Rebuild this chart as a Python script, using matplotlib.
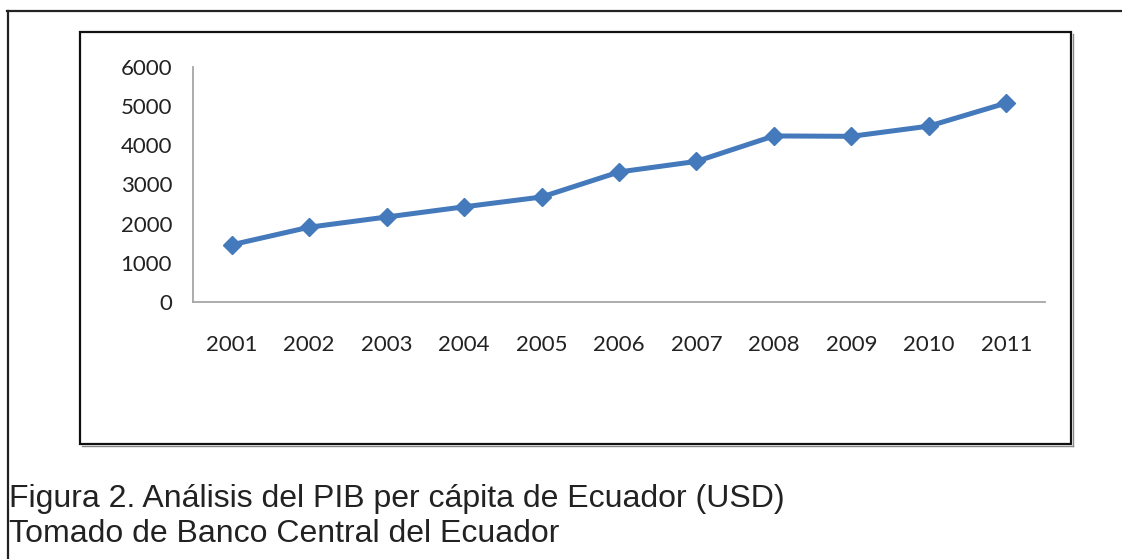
import matplotlib
matplotlib.use("Agg")
import matplotlib.pyplot as plt
from matplotlib.patches import Rectangle
from matplotlib.lines import Line2D

# PIB per capita de Ecuador (USD)
years = ["2001", "2002", "2003", "2004", "2005", "2006",
         "2007", "2008", "2009", "2010", "2011"]
pib = [1460, 1910, 2170, 2430, 2680, 3320, 3590, 4240, 4230, 4490, 5080]
yticks = [0, 1000, 2000, 3000, 4000, 5000, 6000]

caption1 = "Figura 2. Análisis del PIB per cápita de Ecuador (USD)"
caption2 = "Tomado de Banco Central del Ecuador"

W, H = 1122, 559
fig = plt.figure(figsize=(W / 100, H / 100), dpi=100)

def fx(px):
    return px / W

def fy(py):
    return 1 - py / H

# outer frame (top and left only)
fig.add_artist(Line2D([fx(7), 1], [fy(11), fy(11)], color="#222222", lw=1.6))
fig.add_artist(Line2D([fx(8), fx(8)], [fy(11), 0], color="#222222", lw=1.6))

# chart box
fig.add_artist(Rectangle((fx(80), fy(444)), fx(1071) - fx(80), fy(32) - fy(444),
                         fill=False, edgecolor="#111111", lw=1.6))
fig.add_artist(Line2D([fx(1072.5), fx(1072.5)], [fy(445.5), fy(34)], color="#888888", lw=1.0))
fig.add_artist(Line2D([fx(82), fx(1072.5)], [fy(445.5), fy(445.5)], color="#888888", lw=1.0))

ax = fig.add_axes([fx(193), fy(302), fx(1045) - fx(193), fy(67) - fy(302)])
x = list(range(len(years)))
ax.plot(x, pib, color="#4479BC", lw=3.6, marker="D", ms=9, mec="#4479BC",
        solid_joinstyle="round")

ax.set_xlim(-0.5, len(years) - 0.5)
ax.set_ylim(0, 6000)
ax.set_yticks(yticks)
ax.set_yticklabels([str(v) for v in yticks])
ax.set_xticks(x)
ax.set_xticklabels(years)

for s in ["top", "right"]:
    ax.spines[s].set_visible(False)
for s in ["left", "bottom"]:
    ax.spines[s].set_color("#A6A6A6")
    ax.spines[s].set_linewidth(1.3)

ax.tick_params(axis="y", length=0, pad=15)
ax.tick_params(axis="x", length=0, pad=24)
for lab in ax.get_xticklabels() + ax.get_yticklabels():
    lab.set_fontfamily("Lato")
    lab.set_fontsize(16)
    lab.set_color("#222222")

fig.text(fx(9), fy(507), caption1, fontsize=23, family="Liberation Sans",
         color="#222222", va="baseline", ha="left")
fig.text(fx(9), fy(542), caption2, fontsize=23, family="Liberation Sans",
         color="#222222", va="baseline", ha="left")

fig.savefig("out.png", dpi=100)
